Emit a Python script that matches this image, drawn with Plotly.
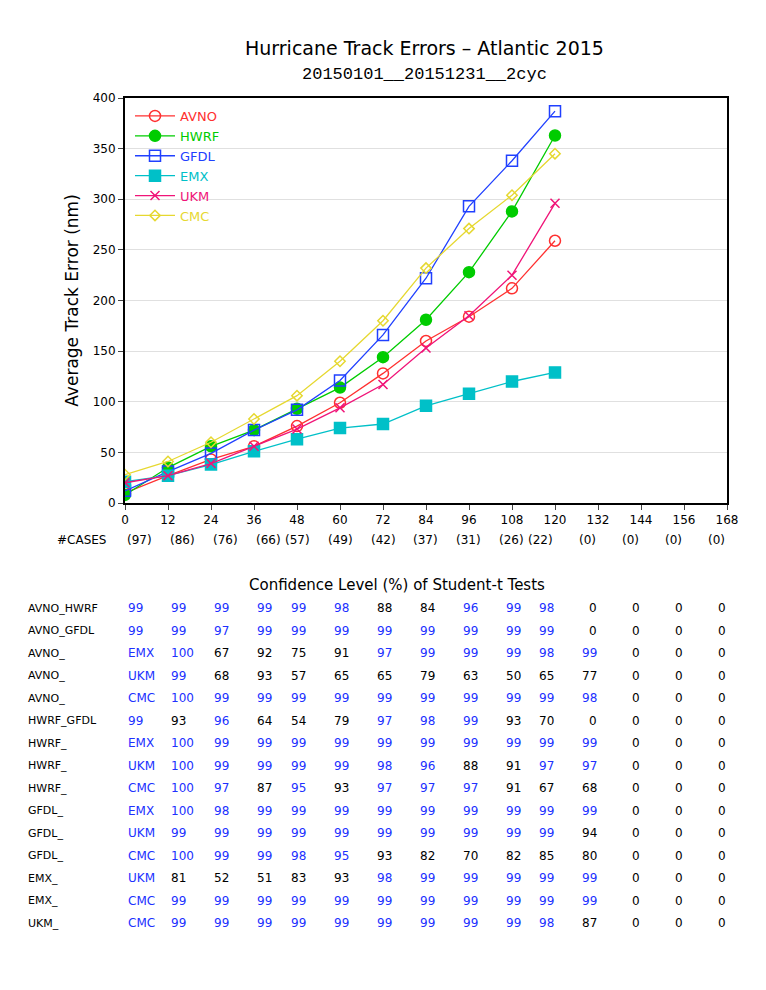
import plotly.graph_objects as go

# forecast hours and mean track errors (nm)
hours = [0, 12, 24, 36, 48, 60, 72, 84, 96, 108, 120]
avno = [10, 27, 43, 56, 76, 99, 128, 160, 184, 212, 259]
hwrf = [8, 35, 56, 72, 93, 114, 144, 181, 228, 288, 363]
gfdl = [12, 31, 49, 72, 92, 121, 166, 222, 293, 338, 387]
emx = [21, 27, 38, 51, 63, 74, 78, 96, 108, 120, 129]
ukm = [20, 27, 39, 56, 73, 94, 117, 153, 185, 225, 296]
cmc = [28, 41, 60, 83, 106, 140, 180, 232, 271, 304, 345]

case_hours = [0, 12, 24, 36, 48, 60, 72, 84, 96, 108, 120, 132, 144, 156, 168]
cases = [97, 86, 76, 66, 57, 49, 42, 37, 31, 26, 22, 0, 0, 0, 0]

# confidence table: row label, second model (or None), values
row_names = ["AVNO_HWRF", "AVNO_GFDL", "AVNO_", "AVNO_", "AVNO_", "HWRF_GFDL", "HWRF_",
             "HWRF_", "HWRF_", "GFDL_", "GFDL_", "GFDL_", "EMX_", "EMX_", "UKM_"]
row_second = [None, None, "EMX", "UKM", "CMC", None, "EMX", "UKM", "CMC", "EMX", "UKM", "CMC",
              "UKM", "CMC", "CMC"]
row_vals = [
    [99, 99, 99, 99, 99, 98, 88, 84, 96, 99, 98, 0, 0, 0, 0],
    [99, 99, 97, 99, 99, 99, 99, 99, 99, 99, 99, 0, 0, 0, 0],
    [100, 67, 92, 75, 91, 97, 99, 99, 99, 98, 99, 0, 0, 0],
    [99, 68, 93, 57, 65, 65, 79, 63, 50, 65, 77, 0, 0, 0],
    [100, 99, 99, 99, 99, 99, 99, 99, 99, 99, 98, 0, 0, 0],
    [99, 93, 96, 64, 54, 79, 97, 98, 99, 93, 70, 0, 0, 0, 0],
    [100, 99, 99, 99, 99, 99, 99, 99, 99, 99, 99, 0, 0, 0],
    [100, 99, 99, 99, 99, 98, 96, 88, 91, 97, 97, 0, 0, 0],
    [100, 97, 87, 95, 93, 97, 97, 97, 91, 67, 68, 0, 0, 0],
    [100, 98, 99, 99, 99, 99, 99, 99, 99, 99, 99, 0, 0, 0],
    [99, 99, 99, 99, 99, 99, 99, 99, 99, 99, 94, 0, 0, 0],
    [100, 99, 99, 98, 95, 93, 82, 70, 82, 85, 80, 0, 0, 0],
    [81, 52, 51, 83, 93, 98, 99, 99, 99, 99, 99, 0, 0, 0],
    [99, 99, 99, 99, 99, 99, 99, 99, 99, 99, 99, 0, 0, 0],
    [99, 99, 99, 99, 99, 99, 99, 99, 99, 98, 87, 0, 0, 0],
]

W, H = 766, 990
BLUE = "#2030ff"
FONT = "DejaVu Sans"

fig = go.Figure()
series = [
    ("AVNO", avno, "#ff3030", "circle-open", 11),
    ("HWRF", hwrf, "#00cc00", "circle", 11),
    ("GFDL", gfdl, "#2040ff", "square-open", 11),
    ("EMX", emx, "#00c0c8", "square", 11),
    ("UKM", ukm, "#f01478", "x-thin-open", 9),
    ("CMC", cmc, "#e6d830", "diamond-open", 8),
]
for name, vals, col, sym, sz in series:
    fig.add_trace(go.Scatter(
        x=hours, y=vals, mode="lines+markers",
        name=f"<span style='color:{col}'>{name}</span>",
        line=dict(color=col, width=1.3),
        marker=dict(symbol=sym, size=sz, color=col, line=dict(color=col, width=1.5)),
    ))

ann = []
ann.append(dict(x=0.5 + 33 / W, y=1 - 40 / H, text="Hurricane Track Errors \u2013 Atlantic 2015",
                showarrow=False, font=dict(size=19, family=FONT)))
ann.append(dict(x=0.5 + 33 / W, y=1 - 67 / H, text="20150101__20151231__2cyc",
                showarrow=False, font=dict(size=17, family="Liberation Mono")))
ann.append(dict(x=0.5 + 6 / W, y=1 - 577 / H, text="Confidence Level (%) of Student-t Tests",
                showarrow=False, font=dict(size=15, family=FONT)))

def colx(k):
    return (118 + 43 * k) / W

ann.append(dict(x=100 / W, y=1 - 532 / H, text="#CASES", xanchor="right", showarrow=False,
                font=dict(size=12, family=FONT)))
for h, c in zip(case_hours, cases):
    ann.append(dict(x=(117 + h * 602 / 168) / W, y=1 - 532 / H, text=f"({c})",
                    showarrow=False, font=dict(size=12, family=FONT)))

for i, (nm, sec, vals) in enumerate(zip(row_names, row_second, row_vals)):
    yy = 1 - (600 + 22.5 * i) / H
    ann.append(dict(x=18 / W, y=yy, text=nm, xanchor="left", showarrow=False,
                    font=dict(size=11, family=FONT, color="black")))
    start = 0
    if sec:
        ann.append(dict(x=colx(0), y=yy, text=sec, showarrow=False,
                        font=dict(size=12, family=FONT, color=BLUE)))
        start = 1
    for j, v in enumerate(vals):
        ann.append(dict(x=colx(start + j), y=yy, text=str(v), showarrow=False,
                        font=dict(size=12, family=FONT, color=BLUE if v >= 95 else "black")))

for a in ann:
    a.update(xref="paper", yref="paper", yanchor="middle")

fig.update_layout(
    width=W, height=H, margin=dict(l=0, r=0, t=0, b=0, autoexpand=False),
    plot_bgcolor="white", paper_bgcolor="white",
    font=dict(family=FONT, color="black"),
    annotations=ann,
    legend=dict(x=122 / W, y=1 - 93 / H, xanchor="left", yanchor="top", bgcolor="rgba(0,0,0,0)",
                font=dict(size=13, family=FONT), itemwidth=40, tracegroupgap=5),
    xaxis=dict(domain=[117 / W, 719 / W], range=[0, 168], tickvals=case_hours,
               showgrid=False, zeroline=False, ticks="outside", ticklen=5, automargin=False,
               showline=True, linecolor="black", linewidth=2, mirror=True,
               tickfont=dict(size=12)),
    yaxis=dict(domain=[1 - 495 / H, 1 - 90 / H], range=[0, 400], dtick=50, automargin=False,
               showgrid=True, gridcolor="#e0e0e0", zeroline=False, ticks="outside", ticklen=5,
               showline=True, linecolor="black", linewidth=2, mirror=True,
               title=dict(text="Average Track Error (nm)", font=dict(size=17), standoff=10),
               tickfont=dict(size=12)),
)

fig.write_html("out.html")
